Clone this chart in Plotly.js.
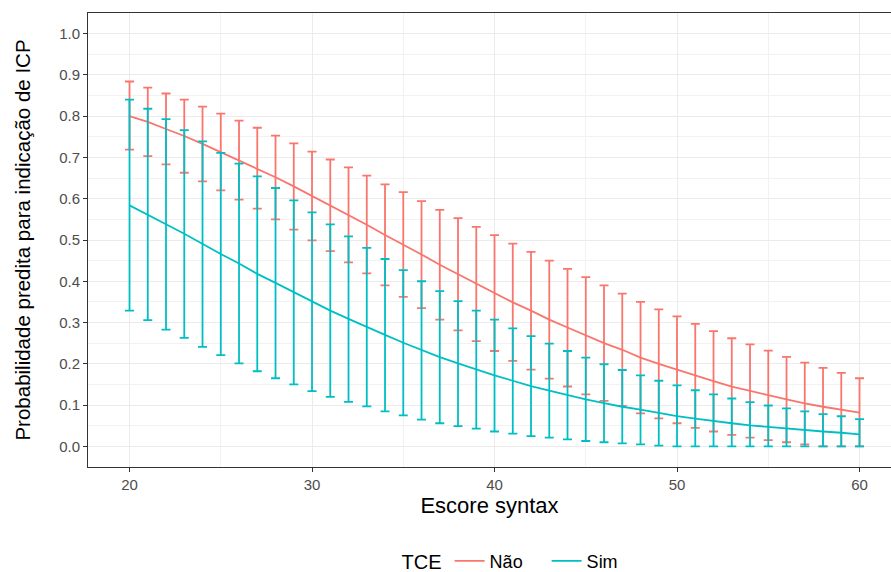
<!DOCTYPE html>
<html>
<head>
<meta charset="utf-8">
<script src="https://cdn.plot.ly/plotly-3.0.1.min.js"></script>
<style>
html,body{margin:0;padding:0;overflow:hidden;background:#fff;}
#chart{width:891px;height:572px;}
</style>
</head>
<body>
<div id="chart"></div>
<script>
const escore = [20,21,22,23,24,25,26,27,28,29,30,31,32,33,34,35,36,37,38,39,40,41,42,43,44,45,46,47,48,49,50,51,52,53,54,55,56,57,58,59,60];

const naoMean = [0.800,0.786,0.769,0.752,0.733,0.713,0.694,0.674,0.652,0.630,0.607,0.584,0.561,0.537,0.512,0.489,0.465,0.440,0.417,0.394,0.371,0.349,0.329,0.307,0.288,0.268,0.250,0.234,0.215,0.200,0.186,0.171,0.158,0.145,0.134,0.124,0.114,0.104,0.096,0.089,0.082];
const naoUpper = [0.884,0.869,0.855,0.840,0.823,0.806,0.789,0.772,0.753,0.734,0.714,0.695,0.676,0.656,0.635,0.616,0.594,0.573,0.553,0.532,0.512,0.491,0.471,0.450,0.430,0.410,0.390,0.370,0.350,0.332,0.315,0.297,0.279,0.262,0.247,0.232,0.217,0.203,0.190,0.178,0.165];
const naoLower = [0.719,0.703,0.683,0.663,0.642,0.620,0.598,0.576,0.550,0.525,0.499,0.473,0.446,0.419,0.390,0.362,0.335,0.307,0.281,0.255,0.231,0.207,0.186,0.164,0.145,0.126,0.110,0.098,0.080,0.068,0.056,0.045,0.036,0.028,0.021,0.015,0.010,0.005,0.000,0.000,0.000];

const simMean = [0.584,0.562,0.538,0.515,0.490,0.466,0.443,0.418,0.396,0.373,0.351,0.329,0.309,0.289,0.270,0.251,0.233,0.216,0.201,0.186,0.172,0.159,0.146,0.135,0.124,0.114,0.105,0.096,0.089,0.081,0.073,0.067,0.061,0.056,0.051,0.047,0.043,0.039,0.036,0.033,0.029];
const simUpper = [0.840,0.818,0.793,0.766,0.739,0.711,0.685,0.654,0.626,0.596,0.567,0.538,0.509,0.481,0.454,0.427,0.400,0.376,0.352,0.329,0.307,0.286,0.267,0.249,0.231,0.215,0.199,0.185,0.172,0.159,0.148,0.136,0.126,0.116,0.107,0.099,0.092,0.085,0.078,0.073,0.066];
const simLower = [0.329,0.306,0.283,0.263,0.241,0.221,0.201,0.182,0.165,0.150,0.134,0.120,0.108,0.097,0.085,0.075,0.065,0.056,0.049,0.043,0.036,0.031,0.025,0.021,0.017,0.013,0.010,0.007,0.005,0.002,0.000,0.000,0.000,0.000,0.000,0.000,0.000,0.000,0.000,0.000,0.000];

const groupNames = ["Não", "Sim"];
const legendTitle = "TCE";
const xTitle = "Escore syntax";
const yTitle = "Probabilidade predita para indicação de ICP";

const colors = ["#F8766D", "#00BFC4"];

function mk(name, mean, up, lo, color) {
  return {
    x: escore, y: mean, name: name, type: "scatter", mode: "lines",
    line: {color: color, width: 1.8},
    error_y: {
      type: "data", symmetric: false,
      array: up.map((u, i) => u - mean[i]),
      arrayminus: lo.map((l, i) => mean[i] - l),
      color: color, thickness: 1.8, width: 4.5
    }
  };
}

const data = [
  mk(groupNames[0], naoMean, naoUpper, naoLower, colors[0]),
  mk(groupNames[1], simMean, simUpper, simLower, colors[1])
];

const font = "Liberation Sans, Arial, sans-serif";
const layout = {
  width: 891, height: 572,
  margin: {l: 88, r: 0, t: 13, b: 104.5, autoexpand: false},
  paper_bgcolor: "#fff", plot_bgcolor: "#fff",
  font: {family: font, color: "#000"},
  showlegend: true,
  legend: {
    orientation: "h", x: 0.54, xanchor: "center", y: -0.248, yanchor: "bottom",
    title: {text: legendTitle, side: "left", font: {size: 20, color: "#000"}},
    font: {size: 18, color: "#000"}, itemwidth: 30, entrywidth: 52
  },
  xaxis: {
    range: [17.725, 61.725], tickmode: "linear", tick0: 20, dtick: 10,
    showgrid: true, gridcolor: "#EBEBEB", gridwidth: 1,
    minor: {dtick: 5, tick0: 20, showgrid: true, gridcolor: "#F2F2F2", gridwidth: 1},
    zeroline: false, showline: true, mirror: true, linecolor: "#333333", linewidth: 1,
    ticks: "outside", ticklen: 4, tickcolor: "#333333", tickwidth: 1,
    tickfont: {size: 15, color: "#4D4D4D"},
    title: {text: xTitle, font: {size: 22, color: "#000"}, standoff: 5}
  },
  yaxis: {
    range: [-0.05, 1.05], tickmode: "linear", tick0: 0, dtick: 0.1,
    tickformat: ".1f",
    showgrid: true, gridcolor: "#EBEBEB", gridwidth: 1,
    minor: {dtick: 0.05, tick0: 0, showgrid: true, gridcolor: "#F2F2F2", gridwidth: 1},
    zeroline: false, showline: true, mirror: false, linecolor: "#333333", linewidth: 1,
    ticks: "outside", ticklen: 4, tickcolor: "#333333", tickwidth: 1,
    tickfont: {size: 15, color: "#4D4D4D"},
    title: {text: yTitle, font: {size: 20.5, color: "#000"}, standoff: 22}
  }
};

Plotly.newPlot("chart", data, layout, {displayModeBar: false, staticPlot: true});
</script>
</body>
</html>
